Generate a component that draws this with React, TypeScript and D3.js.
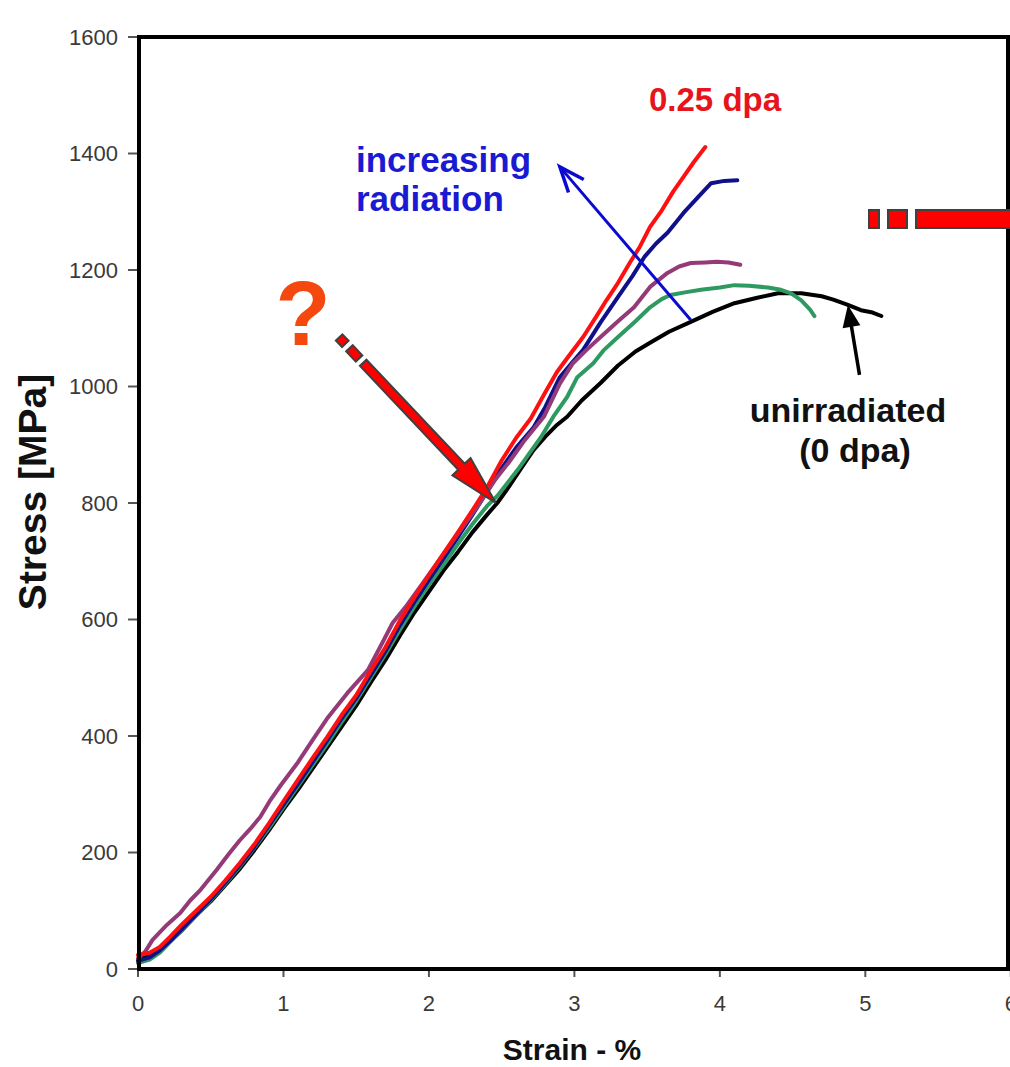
import React from 'react';
import * as d3 from 'd3';

// strain [%], stress [MPa]
const unirradiated = [[0,17],[0.08,22],[0.15,33],[0.22,48],[0.3,66],[0.4,92],[0.5,116],[0.6,144],[0.7,172],[0.8,204],[0.9,238],[1.0,274],[1.1,308],[1.2,344],[1.3,380],[1.4,416],[1.5,452],[1.6,492],[1.7,530],[1.8,572],[1.9,612],[2.0,648],[2.1,684],[2.2,716],[2.3,750],[2.4,780],[2.47,800],[2.55,828],[2.63,858],[2.72,891],[2.8,914],[2.88,934],[2.95,948],[3.05,976],[3.18,1006],[3.3,1036],[3.42,1060],[3.52,1075],[3.65,1094],[3.8,1111],[3.95,1128],[4.1,1143],[4.25,1152],[4.4,1160],[4.56,1160],[4.7,1155],[4.78,1149],[4.88,1140],[4.97,1131],[5.05,1127],[5.11,1121]];
const greenSeries = [[0,10],[0.08,16],[0.15,28],[0.22,46],[0.3,66],[0.4,92],[0.5,118],[0.6,146],[0.7,176],[0.8,208],[0.9,242],[1.0,278],[1.1,314],[1.2,350],[1.3,386],[1.4,424],[1.5,460],[1.6,500],[1.7,540],[1.8,582],[1.9,622],[2.0,660],[2.1,694],[2.2,730],[2.3,764],[2.4,795],[2.47,812],[2.61,857],[2.77,913],[2.86,950],[2.95,982],[3.02,1016],[3.13,1040],[3.2,1062],[3.3,1085],[3.42,1112],[3.52,1136],[3.6,1150],[3.66,1157],[3.77,1162],[3.87,1166],[4.0,1170],[4.1,1174],[4.2,1173],[4.33,1170],[4.42,1166],[4.49,1160],[4.56,1148],[4.62,1132],[4.65,1121]];
const blueSeries = [[0,14],[0.08,20],[0.15,32],[0.22,48],[0.3,68],[0.4,94],[0.5,120],[0.6,148],[0.7,178],[0.8,210],[0.9,246],[1.0,282],[1.1,318],[1.2,355],[1.3,392],[1.4,430],[1.5,465],[1.6,505],[1.7,545],[1.8,590],[1.9,630],[2.0,668],[2.1,705],[2.2,742],[2.3,780],[2.4,820],[2.5,860],[2.6,895],[2.72,930],[2.8,965],[2.9,1016],[2.98,1040],[3.06,1063],[3.18,1110],[3.3,1154],[3.4,1190],[3.48,1222],[3.56,1245],[3.64,1264],[3.75,1298],[3.85,1325],[3.94,1349],[4.03,1353],[4.12,1354]];
const purpleSeries = [[0,18],[0.05,30],[0.1,50],[0.2,76],[0.29,96],[0.36,118],[0.43,136],[0.54,170],[0.62,196],[0.7,221],[0.77,240],[0.84,261],[0.91,290],[0.98,315],[1.1,355],[1.2,393],[1.3,430],[1.44,474],[1.58,513],[1.68,560],[1.75,594],[1.85,625],[1.95,660],[2.05,695],[2.15,730],[2.25,765],[2.35,800],[2.45,838],[2.55,870],[2.65,905],[2.79,948],[2.9,1005],[2.99,1040],[3.08,1062],[3.18,1085],[3.3,1112],[3.41,1136],[3.52,1171],[3.64,1195],[3.72,1206],[3.8,1212],[3.9,1213],[3.98,1214],[4.06,1213],[4.14,1209]];
const dpa025 = [[0,24],[0.08,28],[0.15,38],[0.22,55],[0.3,76],[0.4,100],[0.5,124],[0.6,152],[0.7,182],[0.8,214],[0.9,250],[1.0,288],[1.1,325],[1.2,362],[1.3,398],[1.4,436],[1.5,470],[1.6,512],[1.7,552],[1.8,598],[1.9,638],[2.0,676],[2.1,713],[2.2,750],[2.3,788],[2.4,827],[2.5,873],[2.6,912],[2.7,945],[2.8,990],[2.88,1025],[2.96,1052],[3.06,1085],[3.15,1120],[3.22,1148],[3.3,1178],[3.38,1212],[3.45,1240],[3.52,1274],[3.6,1302],[3.68,1335],[3.75,1360],[3.82,1385],[3.9,1411]];

const seriesList = [
  { name: 'unirradiated', data: unirradiated, color: '#000000' },
  { name: 'green', data: greenSeries, color: '#2e9a62' },
  { name: 'blue', data: blueSeries, color: '#10108a' },
  { name: 'purple', data: purpleSeries, color: '#943a78' },
  { name: '0.25 dpa', data: dpa025, color: '#ff1010' },
];

const xTicks = [0, 1, 2, 3, 4, 5, 6];
const yTicks = [0, 200, 400, 600, 800, 1000, 1200, 1400, 1600];

const FONT = '"Liberation Sans", Arial, sans-serif';

export default function App() {
  const x = d3.scaleLinear().domain([0, 6]).range([138, 1010.8]);
  const y = d3.scaleLinear().domain([0, 1600]).range([969, 37]);
  const line = d3.line<number[]>().x(d => x(d[0])).y(d => y(d[1]));

  // big red block arrow pointing at the unirradiated curve
  const tip = [x(2.46), y(800)];
  const ang = (Math.atan2(tip[1] - 370, tip[0] - 370) * 180) / Math.PI;

  // blue "increasing radiation" arrow
  const bFrom = [x(3.8), y(1114)];
  const bTo = [x(2.9), y(1377)];
  const bAng = Math.atan2(bFrom[1] - bTo[1], bFrom[0] - bTo[0]);
  const barb = (a: number) => [bTo[0] + 27 * Math.cos(bAng + a), bTo[1] + 27 * Math.sin(bAng + a)];
  const b1 = barb(0.38);
  const b2 = barb(-0.38);

  // black arrow to unirradiated curve
  const kTip = [x(4.88), y(1140)];
  const kTail = [x(4.96), y(1020)];
  const kAng = (Math.atan2(kTip[1] - kTail[1], kTip[0] - kTail[0]) * 180) / Math.PI;
  const kLen = Math.hypot(kTip[0] - kTail[0], kTip[1] - kTail[1]);

  return (
    <svg width={1010} height={1067} style={{ position: 'absolute', left: 0, top: 0, background: '#fff' }} fontFamily={FONT}>
      {/* ticks */}
      {yTicks.map(t => (
        <g key={'y' + t}>
          <line x1={128} x2={139} y1={y(t)} y2={y(t)} stroke="#555" strokeWidth={2} />
          <text x={118} y={y(t)} dy="0.36em" textAnchor="end" fontSize={22} fill="#3a3a3a">{t}</text>
        </g>
      ))}
      {xTicks.map(t => (
        <g key={'x' + t}>
          <line x1={x(t)} x2={x(t)} y1={969} y2={977} stroke="#555" strokeWidth={2} />
          <text x={x(t)} y={1011} textAnchor="middle" fontSize={22} fill="#3a3a3a">{t}</text>
        </g>
      ))}

      {/* curves */}
      {seriesList.map(s => (
        <path key={s.name} d={line(s.data) || ''} fill="none" stroke={s.color} strokeWidth={4} strokeLinejoin="round" strokeLinecap="round" />
      ))}

      {/* frame */}
      <rect x={139} y={37} width={869} height={932} fill="none" stroke="#000" strokeWidth={4} />

      {/* axis titles */}
      <text x={572} y={1060} textAnchor="middle" fontSize={30} fontWeight="bold" fill="#111">Strain - %</text>
      <text transform="translate(46,492) rotate(-90)" textAnchor="middle" fontSize={39} fontWeight="bold" fill="#111">Stress [MPa]</text>

      {/* annotations */}
      <text x={649} y={111} fontSize={33} fontWeight="bold" fill="#e8141c">0.25 dpa</text>
      <text x={356} y={172} fontSize={35} fontWeight="bold" fill="#1a1ad2">increasing</text>
      <text x={356} y={211} fontSize={35} fontWeight="bold" fill="#1a1ad2">radiation</text>
      <line x1={bFrom[0]} y1={bFrom[1]} x2={bTo[0]} y2={bTo[1]} stroke="#0a0ad0" strokeWidth={3} />
      <polyline points={`${b1[0]},${b1[1]} ${bTo[0]},${bTo[1]} ${b2[0]},${b2[1]}`} fill="none" stroke="#0a0ad0" strokeWidth={3.5} />

      <text x={848} y={422} textAnchor="middle" fontSize={34} fontWeight="bold" fill="#111">unirradiated</text>
      <text x={855} y={462} textAnchor="middle" fontSize={34} fontWeight="bold" fill="#111">(0 dpa)</text>
      <g transform={`translate(${kTip[0]},${kTip[1]}) rotate(${kAng})`}>
        <line x1={-kLen} y1={0} x2={-18} y2={0} stroke="#000" strokeWidth={3.5} />
        <polygon points="0,0 -22,-9 -22,9" fill="#000" />
      </g>

      <text x={303} y={345} textAnchor="middle" fontSize={90} fontWeight="bold" fill="#f4480e">?</text>
      <g transform={`translate(${tip[0]},${tip[1]}) rotate(${ang})`} fill="#ff0000" stroke="#404040" strokeWidth={2}>
        <rect x={-228} y={-4.5} width={9} height={9} />
        <rect x={-213} y={-4.5} width={14} height={9} />
        <polygon points="-193,-4.5 -50,-4.5 -50,-12.5 0,0 -50,12.5 -50,4.5 -193,4.5" strokeLinejoin="miter" />
      </g>

      <g fill="#ff0000" stroke="#404040" strokeWidth={2}>
        <rect x={869} y={210} width={10} height={18} />
        <rect x={888} y={210} width={19} height={18} />
        <rect x={916} y={210} width={100} height={18} />
      </g>
    </svg>
  );
}
